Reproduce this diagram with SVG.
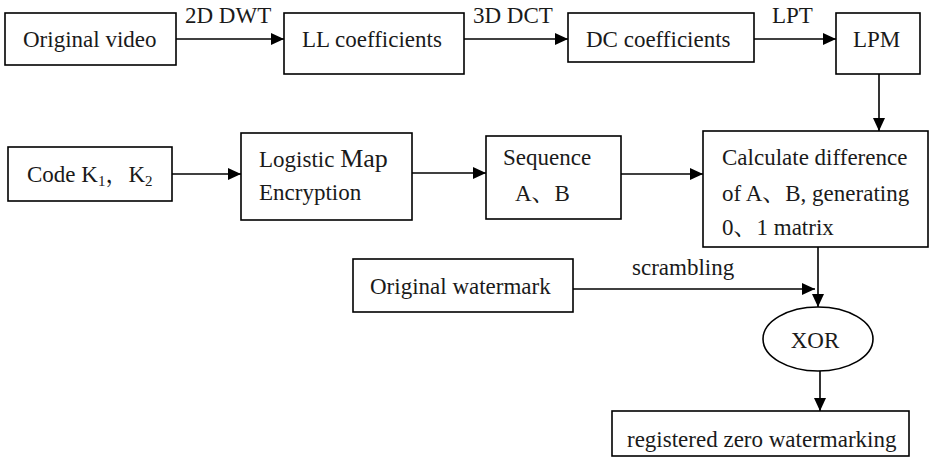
<svg xmlns="http://www.w3.org/2000/svg" width="929" height="462" viewBox="0 0 929 462">
<style>
.box{fill:#fff;stroke:#000;stroke-width:1.6}
.t{font-family:"Liberation Serif","Noto Serif CJK SC","Noto Sans CJK SC",serif;font-size:23px;fill:#1a1a1a}
.c{fill:none;stroke:#000;stroke-width:1.6}
</style>
<defs>
<marker id="ah" markerUnits="userSpaceOnUse" markerWidth="14" markerHeight="12" refX="13" refY="6" orient="auto">
<path d="M0,0 L13,6 L0,12 z" fill="#000"/>
</marker>
</defs>
<rect width="929" height="462" fill="#fff"/>
<g id="connectors">
<line class="c" x1="176" y1="39" x2="284" y2="39" marker-end="url(#ah)"/>
<text class="t" x="185" y="23">2D DWT</text>
<line class="c" x1="464" y1="39" x2="568" y2="39" marker-end="url(#ah)"/>
<text class="t" x="473" y="23">3D DCT</text>
<line class="c" x1="754" y1="39" x2="836" y2="39" marker-end="url(#ah)"/>
<text class="t" x="772" y="23">LPT</text>
<line class="c" x1="879" y1="74" x2="879" y2="131" marker-end="url(#ah)"/>
<line class="c" x1="172" y1="174" x2="241" y2="174" marker-end="url(#ah)"/>
<line class="c" x1="412" y1="173" x2="486" y2="173" marker-end="url(#ah)"/>
<line class="c" x1="621" y1="174" x2="703" y2="174" marker-end="url(#ah)"/>
<line class="c" x1="573" y1="289" x2="815" y2="289" marker-end="url(#ah)"/>
<text class="t" x="632" y="275">scrambling</text>
<line class="c" x1="818" y1="247" x2="818" y2="307" marker-end="url(#ah)"/>
<line class="c" x1="820" y1="371" x2="820" y2="411" marker-end="url(#ah)"/>
</g>
<g id="original-video">
<rect class="box" x="5" y="13" width="171" height="52"/>
<text class="t" x="23" y="47">Original video</text>
</g>
<g id="ll-coefficients">
<rect class="box" x="284" y="13" width="180" height="61"/>
<text class="t" x="302" y="47">LL coefficients</text>
</g>
<g id="dc-coefficients">
<rect class="box" x="568" y="13" width="186" height="49"/>
<text class="t" x="586" y="47">DC coefficients</text>
</g>
<g id="lpm">
<rect class="box" x="836" y="13" width="84" height="61"/>
<text class="t" x="853" y="47">LPM</text>
</g>
<g id="code">
<rect class="box" x="8" y="147" width="164" height="54"/>
<text class="t" x="27" y="182">Code K<tspan font-size="15" dy="4">1</tspan><tspan dy="-4">，K</tspan><tspan font-size="15" dy="4">2</tspan></text>
</g>
<g id="logistic">
<rect class="box" x="241" y="133" width="171" height="87"/>
<text class="t" x="259" y="167">Logistic <tspan font-size="26">Map</tspan></text>
<text class="t" x="259" y="200" font-size="26">Encryption</text>
</g>
<g id="sequence">
<rect class="box" x="486" y="136" width="135" height="83"/>
<text class="t" x="503" y="165">Sequence</text>
<text class="t" x="515" y="201">A、B</text>
</g>
<g id="calculate">
<rect class="box" x="703" y="131" width="225" height="116"/>
<text class="t" x="722" y="165">Calculate difference</text>
<text class="t" x="722" y="201">of A、B, generating</text>
<text class="t" x="722" y="235">0、1 matrix</text>
</g>
<g id="original-watermark">
<rect class="box" x="353" y="259" width="220" height="53"/>
<text class="t" x="370" y="294">Original watermark</text>
</g>
<g id="xor">
<ellipse class="box" cx="818" cy="339" rx="55" ry="32"/>
<text class="t" x="815" y="348" text-anchor="middle">XOR</text>
</g>
<g id="registered">
<rect class="box" x="612" y="411" width="297" height="45"/>
<text class="t" x="627" y="447">registered zero watermarking</text>
</g>
</svg>
